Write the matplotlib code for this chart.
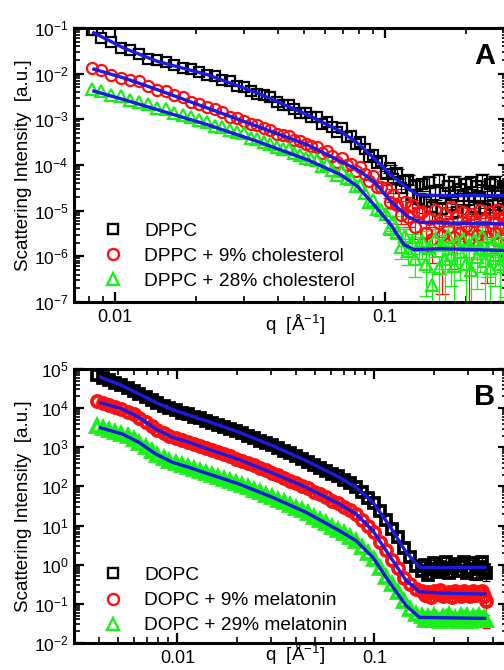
import numpy as np
import matplotlib
matplotlib.use("Agg")
import matplotlib.pyplot as plt
from matplotlib import ticker
from matplotlib.lines import Line2D

plt.rcParams['font.family'] = ['Liberation Sans', 'DejaVu Sans']
plt.rcParams['mathtext.fontset'] = 'custom'
plt.rcParams['mathtext.rm'] = 'Liberation Sans'
plt.rcParams['mathtext.it'] = 'Liberation Sans:italic'
plt.rcParams['mathtext.bf'] = 'Liberation Sans:bold'

# ---------------- Panel A : DPPC / cholesterol (intensities as log10) ----------------
qA = [0.0082, 0.0089, 0.0097, 0.0105, 0.0114, 0.0123, 0.0133, 0.0143, 0.0154, 0.0166,
      0.0178, 0.0191, 0.0205, 0.0219, 0.0234, 0.0250, 0.0266, 0.0283, 0.0300, 0.0318,
      0.0337, 0.0356, 0.0376, 0.0397, 0.0418, 0.0440, 0.0462, 0.0485, 0.0509, 0.0533,
      0.0558, 0.0583, 0.0610, 0.0637, 0.0664, 0.0692, 0.0721, 0.0750, 0.0780, 0.0810,
      0.0841, 0.0873, 0.0905, 0.0938, 0.0971, 0.1005, 0.1040, 0.1075, 0.1110, 0.1146,
      0.1183, 0.1220, 0.1258, 0.1296, 0.1335, 0.1375, 0.1415, 0.1456, 0.1497, 0.1539,
      0.1582, 0.1625, 0.1669, 0.1713, 0.1758, 0.1804, 0.1850, 0.1897, 0.1944, 0.1992,
      0.2041, 0.2090, 0.2140, 0.2190, 0.2241, 0.2293, 0.2345, 0.2398, 0.2452, 0.2506,
      0.2561, 0.2616, 0.2672, 0.2729, 0.2786, 0.2844]

dppc_log = [-1.05, -1.21, -1.30, -1.44, -1.48, -1.57, -1.67, -1.70, -1.74, -1.81,
            -1.88, -1.90, -1.97, -2.04, -2.06, -2.14, -2.17, -2.27, -2.30, -2.37,
            -2.45, -2.47, -2.52, -2.61, -2.69, -2.69, -2.77, -2.86, -2.87, -2.94,
            -2.95, -3.10, -3.05, -3.17, -3.27, -3.20, -3.38, -3.37, -3.55, -3.50,
            -3.66, -3.83, -3.78, -3.96, -3.92, -4.20, -4.07, -4.31, -4.18, -4.51,
            -4.36, -4.32, -4.65, -4.44, -4.75, -4.42, -4.82, -4.37, -4.92, -4.57,
            -4.32, -4.97, -4.62, -4.47, -4.87, -4.37, -5.02, -4.52, -4.67, -4.42,
            -4.77, -4.37, -4.92, -4.47, -4.72, -4.32, -4.97, -4.57, -4.42, -4.87,
            -4.37, -4.82, -4.62, -4.47, -4.97, -4.52]

dppc_chol9_log = [-1.87, -1.92, -2.02, -2.09, -2.13, -2.17, -2.26, -2.36, -2.39, -2.47,
                  -2.51, -2.62, -2.66, -2.74, -2.77, -2.85, -2.94, -2.96, -3.03, -3.10,
                  -3.12, -3.19, -3.23, -3.32, -3.34, -3.37, -3.45, -3.47, -3.53, -3.58,
                  -3.60, -3.74, -3.70, -3.81, -3.93, -3.85, -3.99, -3.98, -4.13, -4.05,
                  -4.20, -4.34, -4.25, -4.48, -4.48, -4.51, -4.82, -4.65, -4.87, -5.10,
                  -4.82, -5.13, -4.87, -5.35, -5.04, -5.03, -5.48, -5.18, -5.63, -4.98,
                  -5.28, -5.53, -5.08, -5.38, -4.93, -5.58, -5.13, -5.48, -5.03, -5.33,
                  -5.63, -5.08, -5.23, -5.53, -4.98, -5.43, -5.18, -5.58, -5.03, -5.28,
                  -5.48, -4.98, -5.38, -5.13, -5.53, -5.23]

dppc_chol28_log = [-2.34, -2.38, -2.46, -2.49, -2.57, -2.62, -2.66, -2.75, -2.78, -2.87,
                   -2.90, -2.94, -3.02, -3.06, -3.14, -3.17, -3.24, -3.28, -3.31, -3.40,
                   -3.43, -3.49, -3.53, -3.61, -3.64, -3.66, -3.74, -3.78, -3.84, -3.86,
                   -3.90, -4.03, -3.98, -4.10, -4.22, -4.14, -4.28, -4.30, -4.47, -4.43,
                   -4.61, -4.80, -4.77, -4.96, -4.99, -5.07, -5.38, -5.25, -5.47, -5.79,
                   -5.55, -5.89, -5.68, -6.05, -5.75, -5.66, -6.16, -5.81, -6.62, -5.61,
                   -6.26, -5.76, -6.06, -5.56, -5.96, -6.21, -5.71, -5.91, -5.61, -6.16,
                   -5.76, -6.31, -5.66, -6.01, -5.81, -5.56, -6.11, -5.86, -6.26, -5.71,
                   -5.96, -5.61, -6.16, -5.81, -6.06, -5.76]

# relative error bars for the high-q points (from qA[45] on)
errA_start = 45
dppc_err = [0.15, 0.2, 0.15, 0.25, 0.2, 0.3, 0.25, 0.3, 0.2, 0.35,
            0.3, 0.4, 0.25, 0.5, 0.35, 0.3, 0.45, 0.4, 0.3, 0.5,
            0.35, 0.45, 0.3, 0.4, 0.35, 0.5, 0.3, 0.45, 0.35, 0.4,
            0.3, 0.5, 0.35, 0.3, 0.45, 0.35, 0.4, 0.3, 0.35, 0.5, 0.4]
dppc_chol9_err = [0.2, 0.25, 0.3, 0.2, 0.35, 0.3, 0.4, 0.3, 0.45, 0.35,
                  0.4, 0.6, 0.35, 0.7, 0.4, 0.5, 0.95, 0.45, 0.6, 0.35,
                  0.8, 0.4, 0.55, 0.45, 0.6, 0.98, 0.4, 0.5, 0.7, 0.35,
                  0.6, 0.45, 0.9, 0.4, 0.5, 0.65, 0.35, 0.6, 0.45, 0.99, 0.5]
dppc_chol28_err = [0.25, 0.3, 0.35, 0.3, 0.45, 0.4, 0.5, 0.45, 0.6, 0.5,
                   0.6, 0.8, 0.7, 0.9, 0.6, 0.85, 0.7, 0.95, 0.6, 0.8,
                   0.9, 0.65, 0.75, 0.6, 0.9, 0.7, 0.95, 0.6, 0.8, 0.7,
                   0.6, 0.9, 0.75, 0.95, 0.65, 0.8, 0.6, 0.9, 0.7, 0.85, 0.75]

# model fits (log10 intensity)
fitA_q_dppc = [0.00824, 0.01079, 0.01435, 0.02198, 0.03365, 0.05152, 0.06855, 0.07907,
               0.09099, 0.1050, 0.1211, 0.1318, 0.1607, 0.2900]
fitA_dppc = [-1.088, -1.440, -1.730, -2.022, -2.423, -2.898, -3.263, -3.518,
             -3.847, -4.212, -4.504, -4.650, -4.670, -4.670]
fitA_q_chol9 = [0.00824, 0.01079, 0.01435, 0.02198, 0.03365, 0.05152, 0.06855, 0.07907,
                0.09099, 0.1050, 0.1211, 0.1355, 0.1607, 0.2900]
fitA_chol9 = [-1.891, -2.095, -2.350, -2.752, -3.153, -3.555, -3.920, -4.102,
              -4.358, -4.796, -5.124, -5.255, -5.270, -5.292]
fitA_q_chol28 = [0.00824, 0.01079, 0.01435, 0.02198, 0.03365, 0.05152, 0.06855, 0.07907,
                 0.09099, 0.1050, 0.1178, 0.1282, 0.1607, 0.2900]
fitA_chol28 = [-2.372, -2.569, -2.788, -3.117, -3.482, -3.883, -4.212, -4.467,
               -4.869, -5.307, -5.745, -5.854, -5.832, -5.876]

labelsA = ["DPPC", "DPPC + 9% cholesterol", "DPPC + 28% cholesterol"]
yticksA = [1e-7, 1e-6, 1e-5, 1e-4, 1e-3, 1e-2, 1e-1]

# ---------------- Panel B : DOPC / melatonin (intensities as log10) ----------------
qB = [0.0039, 0.0042, 0.0045, 0.0048, 0.0052, 0.0056, 0.0060, 0.0064, 0.0069, 0.0074,
      0.0079, 0.0085, 0.0091, 0.0098, 0.0105, 0.0113, 0.0121, 0.0130, 0.0139, 0.0149,
      0.0160, 0.0172, 0.0184, 0.0198, 0.0212, 0.0228, 0.0244, 0.0262, 0.0281, 0.0302,
      0.0324, 0.0347, 0.0372, 0.0399, 0.0428, 0.0459, 0.0493, 0.0529, 0.0567, 0.0608,
      0.0652, 0.0700, 0.0751, 0.0805, 0.0864, 0.0927, 0.0994, 0.1066, 0.1144, 0.1227,
      0.1316, 0.1412, 0.1515, 0.1625, 0.1743, 0.1805, 0.1870, 0.1937, 0.2006, 0.2078,
      0.2152, 0.2230, 0.2309, 0.2392, 0.2477, 0.2566, 0.2657, 0.2752, 0.2850, 0.2953,
      0.3058, 0.3168, 0.3280, 0.3398, 0.3519, 0.3610, 0.3700]

dopc_log = [4.85, 4.77, 4.72, 4.65, 4.59, 4.51, 4.44, 4.35, 4.28, 4.20,
            4.14, 4.06, 4.00, 3.94, 3.88, 3.84, 3.78, 3.74, 3.68, 3.63,
            3.58, 3.52, 3.47, 3.41, 3.36, 3.30, 3.23, 3.17, 3.11, 3.05,
            2.98, 2.91, 2.85, 2.77, 2.71, 2.63, 2.56, 2.48, 2.40, 2.33,
            2.26, 2.16, 2.08, 1.98, 1.85, 1.71, 1.58, 1.36, 1.15, 0.92,
            0.70, 0.43, 0.20, -0.03, -0.15, -0.02, -0.26, -0.10, 0.05, -0.18,
            -0.05, -0.12, 0.08, -0.22, -0.08, 0.02, -0.16, -0.04, 0.06, -0.20,
            -0.10, 0.04, -0.24, -0.06, 0.07, -0.14, -0.22]

dopc_mel9_log = [4.17, 4.12, 4.08, 4.03, 3.99, 3.91, 3.84, 3.76, 3.65, 3.54,
                 3.45, 3.37, 3.30, 3.23, 3.19, 3.14, 3.09, 3.03, 2.98, 2.92,
                 2.87, 2.82, 2.77, 2.71, 2.66, 2.60, 2.54, 2.47, 2.41, 2.35,
                 2.28, 2.22, 2.15, 2.09, 2.02, 1.95, 1.87, 1.80, 1.72, 1.64,
                 1.57, 1.48, 1.39, 1.30, 1.14, 0.99, 0.83, 0.59, 0.37, 0.13,
                 -0.09, -0.33, -0.49, -0.62, -0.66, -0.78, -0.70, -0.82, -0.68, -0.76,
                 -0.65, -0.80, -0.74, -0.69, -0.83, -0.67, -0.75, -0.79, -0.66, -0.73,
                 -0.81, -0.68, -0.77, -0.70, -0.66, -0.80, -0.92]

dopc_mel29_log = [3.54, 3.49, 3.44, 3.40, 3.35, 3.28, 3.20, 3.12, 3.01, 2.90,
                  2.81, 2.73, 2.66, 2.59, 2.55, 2.50, 2.45, 2.40, 2.35, 2.30,
                  2.25, 2.19, 2.15, 2.09, 2.04, 1.98, 1.92, 1.85, 1.79, 1.73,
                  1.66, 1.59, 1.52, 1.45, 1.39, 1.31, 1.23, 1.14, 1.06, 0.97,
                  0.89, 0.80, 0.71, 0.61, 0.46, 0.31, 0.15, -0.09, -0.31, -0.50,
                  -0.70, -0.93, -1.13, -1.27, -1.30, -1.40, -1.33, -1.42, -1.31, -1.38,
                  -1.45, -1.33, -1.37, -1.29, -1.41, -1.35, -1.43, -1.32, -1.39, -1.30,
                  -1.44, -1.34, -1.38, -1.31, -1.42, -1.36, -1.40]

errB_start = 54
dopc_err = [0.2, 0.25, 0.15, 0.3, 0.2, 0.25, 0.2, 0.3, 0.2, 0.25, 0.3, 0.2,
            0.25, 0.15, 0.3, 0.2, 0.25, 0.2, 0.3, 0.2, 0.25, 0.3, 0.35]
dopc_mel9_err = [0.15, 0.2, 0.15, 0.2, 0.15, 0.2, 0.2, 0.15, 0.2, 0.15, 0.2, 0.15,
                 0.2, 0.2, 0.15, 0.2, 0.15, 0.2, 0.2, 0.15, 0.25, 0.3, 0.8]
dopc_mel29_err = [0.2, 0.15, 0.2, 0.15, 0.2, 0.2, 0.15, 0.2, 0.2, 0.15, 0.2, 0.2,
                  0.15, 0.2, 0.2, 0.15, 0.2, 0.2, 0.25, 0.2, 0.2, 0.25, 0.3]

fitB_q = [0.0040, 0.00525, 0.00638, 0.00776, 0.00944, 0.01146, 0.01393, 0.0206, 0.0304,
          0.0450, 0.0664, 0.0807, 0.0981, 0.1192, 0.1449, 0.1694, 0.2142, 0.370]
fitB_dopc = [4.806, 4.574, 4.361, 4.148, 3.961, 3.820, 3.680, 3.382, 3.041,
             2.658, 2.232, 1.976, 1.593, 0.997, 0.315, -0.068, -0.077, -0.068]
fitB_mel9 = [4.148, 3.978, 3.765, 3.467, 3.254, 3.126, 2.973, 2.683, 2.342,
             1.976, 1.550, 1.295, 0.869, 0.230, -0.409, -0.690, -0.724, -0.750]
fitB_mel29 = [3.509, 3.339, 3.126, 2.828, 2.615, 2.487, 2.342, 2.061, 1.721,
              1.337, 0.869, 0.613, 0.187, -0.451, -1.048, -1.346, -1.354, -1.371]

labelsB = ["DOPC", "DOPC + 9% melatonin", "DOPC + 29% melatonin"]
yticksB = [1e-2, 1e-1, 1e0, 1e1, 1e2, 1e3, 1e4, 1e5]
xticks = [0.01, 0.1]

# ---------------- styling ----------------
BLACK, RED, GREEN, BLUE = "#000000", "#ff1010", "#18f018", "#1a1ae0"
markers = [("s", 6.5), ("o", 8.0), ("^", 8.0)]
colors = [BLACK, RED, GREEN]

fig = plt.figure(figsize=(5.04, 6.70), dpi=100)
axA = fig.add_axes([74 / 504, 1 - 302 / 670, 434 / 504, 274 / 670])
axB = fig.add_axes([74 / 504, 1 - 643 / 670, 434 / 504, 274 / 670])


def draw(ax, q, logs, errs, err_start, fits, capsize, mew):
    q = np.asarray(q)
    for (m, ms), c, lg, er in zip(markers, colors, logs, errs):
        I = 10 ** np.asarray(lg)
        e = I[err_start:] * np.asarray(er)
        ax.errorbar(q[err_start:], I[err_start:], yerr=e, fmt="none", ecolor=c,
                    elinewidth=0.9, capsize=capsize, capthick=0.9, zorder=2)
        ax.plot(q, I, linestyle="none", marker=m, ms=ms, mfc="none",
                mec=c, mew=mew, zorder=3)
    for fq, fl in fits:
        ax.plot(fq, 10 ** np.asarray(fl), color=BLUE, lw=2.4, zorder=5,
                solid_capstyle="butt")
    # legend proxies with thin marker edges, as in the reference key
    return [Line2D([], [], linestyle="none", marker=m, ms=ms, mfc="none", mec=c, mew=1.7)
            for (m, ms), c in zip(markers, colors)]


def style(ax, xlim, ylim, yticks, letter, label_y, label_va):
    ax.set_xscale("log")
    ax.set_yscale("log")
    ax.set_xlim(*xlim)
    ax.set_ylim(*ylim)
    ax.xaxis.set_major_locator(ticker.FixedLocator(xticks))
    ax.xaxis.set_major_formatter(ticker.FuncFormatter(lambda v, p: f"{v:g}"))
    ax.xaxis.set_minor_locator(ticker.LogLocator(base=10, subs=np.arange(2, 10), numticks=20))
    ax.xaxis.set_minor_formatter(ticker.NullFormatter())
    ax.yaxis.set_major_locator(ticker.FixedLocator(yticks))
    ax.yaxis.set_major_formatter(ticker.LogFormatterSciNotation())
    ax.yaxis.set_minor_locator(ticker.LogLocator(base=10, subs=np.arange(2, 10), numticks=20))
    ax.yaxis.set_minor_formatter(ticker.NullFormatter())
    ax.tick_params(which="both", direction="in", top=True, right=True)
    ax.tick_params(which="major", length=7, width=1.6)
    ax.tick_params(which="minor", length=4, width=1.2)
    ax.tick_params(axis="x", which="major", labelsize=13, pad=5)
    ax.tick_params(axis="y", which="major", labelsize=12.5, pad=4)
    for s in ax.spines.values():
        s.set_linewidth(2.2)
    ax.set_ylabel("Scattering Intensity  [a.u.]", fontsize=13.5)
    ax.yaxis.set_label_coords(-0.097, 0.5)
    ax.set_xlabel("q  [Å$^{-1}$]", fontsize=13.5, va=label_va)
    ax.xaxis.set_label_coords(0.509, label_y)
    ax.text(0.946, 0.896, letter, transform=ax.transAxes, fontsize=21,
            fontweight="bold", ha="center", va="center")


hA = draw(axA, qA, [dppc_log, dppc_chol9_log, dppc_chol28_log],
          [dppc_err, dppc_chol9_err, dppc_chol28_err], errA_start,
          [(fitA_q_dppc, fitA_dppc), (fitA_q_chol9, fitA_chol9), (fitA_q_chol28, fitA_chol28)],
          5, 1.6)
style(axA, (0.00705, 0.2857), (1e-7, 1e-1), yticksA, "A", -0.04, "top")
axA.legend(hA, labelsA, loc="center left", bbox_to_anchor=(0.068, 0.168), frameon=False,
           fontsize=13.8, handlelength=1.0, handletextpad=1.12, labelspacing=0.40,
           borderpad=0, borderaxespad=0)

hB = draw(axB, qB, [dopc_log, dopc_mel9_log, dopc_mel29_log],
          [dopc_err, dopc_mel9_err, dopc_mel29_err], errB_start,
          [(fitB_q, fitB_dopc), (fitB_q, fitB_mel9), (fitB_q, fitB_mel29)],
          3, 2.7)
style(axB, (0.002985, 0.476), (1e-2, 1e5), yticksB, "B", -0.088, "bottom")
axB.legend(hB, labelsB, loc="center left", bbox_to_anchor=(0.068, 0.155), frameon=False,
           fontsize=13.8, handlelength=1.0, handletextpad=1.12, labelspacing=0.40,
           borderpad=0, borderaxespad=0)

fig.savefig("out.png", dpi=100)
